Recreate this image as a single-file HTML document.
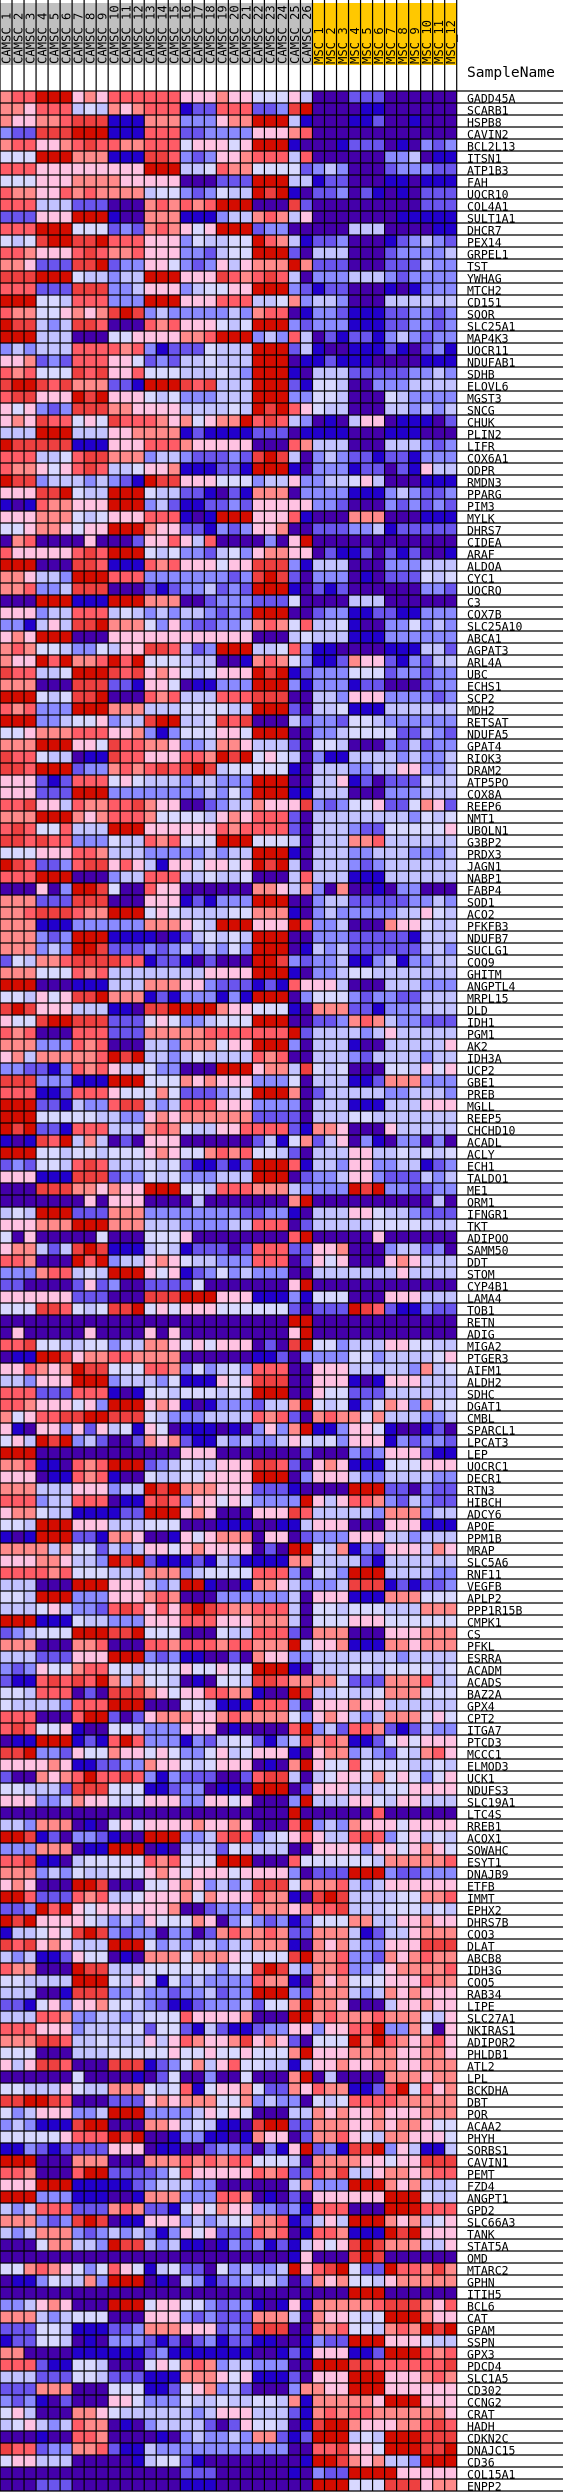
<!DOCTYPE html>
<html><head><meta charset="utf-8"><title>Heatmap</title>
<style>
html,body{margin:0;padding:0;background:#fff;}
svg{display:block;}
</style></head>
<body>
<svg id="chart" width="563" height="2492" viewBox="0 0 563 2492" xmlns="http://www.w3.org/2000/svg">
<g id="header"></g>
<g id="cells"></g>
<g id="lines"></g>
<g id="rowlabels"></g>
<text x="467" y="77" font-family="'DejaVu Sans Mono','Liberation Mono',monospace" font-size="14.6" fill="#000">SampleName</text>
</svg>
<script>
const camscCount = 26;
const mscCount = 12;
const genes = ["GADD45A","SCARB1","HSPB8","CAVIN2","BCL2L13","ITSN1","ATP1B3","FAH","UQCR10","COL4A1",
"SULT1A1","DHCR7","PEX14","GRPEL1","TST","YWHAG","MTCH2","CD151","SQOR","SLC25A1",
"MAP4K3","UQCR11","NDUFAB1","SDHB","ELOVL6","MGST3","SNCG","CHUK","PLIN2","LIFR",
"COX6A1","QDPR","RMDN3","PPARG","PIM3","MYLK","DHRS7","CIDEA","ARAF","ALDOA",
"CYC1","UQCRQ","C3","COX7B","SLC25A10","ABCA1","AGPAT3","ARL4A","UBC","ECHS1",
"SCP2","MDH2","RETSAT","NDUFA5","GPAT4","RIOK3","DRAM2","ATP5PO","COX8A","REEP6",
"NMT1","UBQLN1","G3BP2","PRDX3","JAGN1","NABP1","FABP4","SOD1","ACO2","PFKFB3",
"NDUFB7","SUCLG1","COQ9","GHITM","ANGPTL4","MRPL15","DLD","IDH1","PGM1","AK2",
"IDH3A","UCP2","GBE1","PREB","MGLL","REEP5","CHCHD10","ACADL","ACLY","ECH1",
"TALDO1","ME1","ORM1","IFNGR1","TKT","ADIPOQ","SAMM50","DDT","STOM","CYP4B1",
"LAMA4","TOB1","RETN","ADIG","MIGA2","PTGER3","AIFM1","ALDH2","SDHC","DGAT1",
"CMBL","SPARCL1","LPCAT3","LEP","UQCRC1","DECR1","RTN3","HIBCH","ADCY6","APOE",
"PPM1B","MRAP","SLC5A6","RNF11","VEGFB","APLP2","PPP1R15B","CMPK1","CS","PFKL",
"ESRRA","ACADM","ACADS","BAZ2A","GPX4","CPT2","ITGA7","PTCD3","MCCC1","ELMOD3",
"UCK1","NDUFS3","SLC19A1","LTC4S","RREB1","ACOX1","SOWAHC","ESYT1","DNAJB9","ETFB",
"IMMT","EPHX2","DHRS7B","COQ3","DLAT","ABCB8","IDH3G","COQ5","RAB34","LIPE",
"SLC27A1","NKIRAS1","ADIPOR2","PHLDB1","ATL2","LPL","BCKDHA","DBT","POR","ACAA2",
"PHYH","SORBS1","CAVIN1","PEMT","FZD4","ANGPT1","GPD2","SLC66A3","TANK","STAT5A",
"OMD","MTARC2","GPHN","ITIH5","BCL6","CAT","GPAM","SSPN","GPX3","PDCD4",
"SLC1A5","CD302","CCNG2","CRAT","HADH","CDKN2C","DNAJC15","CD36","COL15A1","ENPP2"];
// expression level per cell: 0 = strongest red ... 9/a = strongest blue
const camscLevels = ["32200043422222244434455546","33422265634322298822288710","34433211199933377743300069","78811100099922288777744432","3224432122332225444540009a","55500033399911278744322262","22244444444400066523355558","555444333344444aaa88800066","2334423233336557875660109a","222666888aaa323232000aaa18",
"8884440009aa33399976632364","222000555878323454000877aa","56510011022244475665502369","2234442123324447786550008a","33488811087744578746433303","1110005667660004441232126a","22288811177644476554400078","00055622277700044422266537","233554343101767777767322a9","011676112aaa23244456500078",
"000666aaa55444433200076726","76766622223279888566600086","443878222445878665666000a9","2325551214425556665670009a","10012133388900012166600089","21144401044456577766600077","45478711133444466665601024","43412254512223435433021267","666000666443333989999888a9","011111999444222344444aaa23",
"2226652113337667888781016a","2334542126654439998890009a","01176667678901144455576647","444110566000566889a89333a7","9a923344400076899887844444","4443335654442229a900044429","554334544000344889787443aa","a32aaaa4aaa8442462aaaa7a40","24444421200056577865743344","000aaa11299923244454411179",
"3346670002227777777871018a","332776111aaa8987768780009a","aaa000999000333aa87778885a","444766222656767667878000aa","77964611033357478877632352","434000aaa444444444444aaa65","32355677564411268700066527","344020332020555666aa932357","12266500012143456544401098","333aaa111889445a9977700079",
"000565110aaa232666222111aa","2327770003336665555660008a","000776554766100665121aaa68","554333222443797555445000aa","3330004451223347763346668a","122566a991224442230105456a","1120008773232121016555559a","444898222545666766777000aa","44488800077777777675700099","221446233221344aa876634441",
"3330003432223555564342228a","2125526660004444442322228a","1121227775662325550005556a","5554442236667777767660009a","0128872114246944544540106a","222000aaa766222665665aaa62","aaa4a70015aa244aaaaaa33463","333888111aaa444989777000aa","3321112330005456666553339a","33399977777733345600044402",
"3337870009999a9865656000aa","333767001888787676757000a9","8563321111229889a8aaa00178","3335552326666666644440009a","000aaa99966633344788898924","556454110333989777979000a7","10144466699a1100003445559a","455100111888545776555000aa","232aaa22288833333222222208","333777232aaa6673335440007a",
"436333332010667656666232aa","778897232466577aaa00043361","1117779990005553434447775a","2229982224555358887650003a","0008896772116762224447777a","0005555566774343333338888a","01088922266632356644222289","9a9120636a8a444aaaaaa86953","0005565565554345532325568a","87855621266656589989800029",
"444999111877565777666000a8","aaa11133434400055622233367","aaaaaaa4a444aaaa6aaaaaaa30","6560008883337777777788779a","444333000333666777766222a8","5a4aaaaa5aaa5554aaaaaaaa20","4336861019996569888a822288","223aaa020766434566777222a8","777322656000454987576777aa","88aaaa8487aa88885aaaaaaa40",
"444444888aaa11100044499979","5551125651105454445555558a","aaaaaaaaaaaaaaaaaaaaaaaa00","a4aaaaa4aaaa4a4aaaaaaaaa40","221556655766334545444a8a10","a99001433223333aaaaaa998a7","442343011555223757657222aa","667444000766675999454111aa","2228882229a9556555656000aa","2234445470004349a977786630",
"3542211001115677766662328a","49a44748465945a999a9a74730","546010768aa834389967677645","000aaaaaaaaaaaa444aaaaaaa8","33299a2320008765664441128a","444a992329aa566554444000a7","3336664447660103334448889a","222766222a9921274454577770","433566999988000434aaa44412","556000444666555aaa999aa996",
"9a9000889334aa9454333a44a8","333363558676445434444a8a00","44433466701089998967999933","2222325556663337655552227a","666aaa000444676009aa933467","556000777444323aaa7777776a","6665467782124241012332226a","0009995667774442224443336a","876555000110555aaa5662228a","333aaa332aaa22322232233306",
"66688844400078799aa8a34477","7874553225565554554550009a","899212120363556a9a55611233","556222a8a1113454422339aa01","566667222000aaa5569992227a","222aaa2008a843334432333357","2125549aa556777444a9aaaa20","a9900098920277797865589761","1107784553445457754654449a","444434998877344565444a9a30",
"8aa343202212797888aa82116a","55666811155599877a99a000a8","444776344565444774454aaa70","aaaaaaaaaaaaaaaaaaaaaaaa0a","667333a9a545444434434aaa20","00198a7789aa00077621276542","777333a99000a9a666856666aa","22199a655555232555000aaa25","3337675665554345444544447a","434aaa001aaa55434767611153",
"0028882326654443534442339a","887020454444443aa877733343","010444456767455534a7578798","9665451017877a77a832332388","1214346660005767667663339a","676998455a9a33353334555510","233aaa01166655555575510167","5566660005645957677772339a","666aa911177677877687700078","88954744355678998777685530",
"666223776676555244443aaa00","22244476665585589689987744","3331126656664642344314348a","555aaa66655555455455455530","464112aaa11198753642556696","aaaaaa5aaaa9a85aa7aa5aaa30","55666456633356529544358834","110012aaa8884343335537677a","576444776000777764545aaa66","767999100aaa33465699a10088",
"555554222010aa97799a9344a8","997898888444a99aa8778a7940","000aaa333aaa3332323225556a","223aaa20088887524444423288","444000999998766677aaaaaa63","000777999aa9333777223a9a8a","67622288832388954534477879","333787101a9944476765533298","676333787676797454888232a9","aaa53366701167699a97879896",
"aaaaaaaaaaaaaaaaaaaaaaaa94","55323457524596588a57677604","a99756637000a9a679877667a8","aaaaaaaaaaaaaaaaaaaaaaaaaa","776434aaa0005445578779a949","333676555aaa4447878883336a","888556999887333444878111aa","988556a9a777898a8798899aa9","33aaaa999999879999999aa989","222899556aaa545323766777aa",
"6668885568889993334549998a","888333aaa555998543768aaa73","7879a8aaa44577756656655639","546aaa33456666667644466689","654676233a9a766668a84556a9","aaa9aa223aaaa9a76776733898","122877332899677777777777aa","544666aaaaa965589aaaaaaaa9","aaaaaaaaaaaaaaa888aaaaaa9a","aaa888aaaaaaaaa999aaaaaaaa"];
const mscLevels = ["aaa888aaaaaa","aaaa99aaaaaa","aaa998aa9aaa","aaaaaaaaaaaa","aa9888a9a787","aaaaaa776a99","767aaa877788","988aaa99a999","887a89a9a888","aaaaaaaaa888",
"aaaaaaa99999","aaa666aaaa99","887aaa987678","666aaa877776","888aaa888677","777666787777","988aaa9a9777","667aaa666666","778999887787","777999887787",
"a89889767877","9aa99989a879","98999aaaa999","666888887767","556aa7776666","556aaa567777","566aaa667676","a9a644a999a8","999aaa999aaa","666aaa666787",
"767889889777","777988a89466","766546aaa999","777999767887","778aaa787878","aaa333aaa999","888776988888","aaaaaaaaaaaa","a8998a898aa9","666aaa777666",
"777a9a888565","898aaaaaa778","aaa666aaaaaa","877998899777","6659aa775767","666999777777","99aaaa999668","998344897866","777555877877","777988aaa877",
"667444777787","665999666666","778556777777","776555588678","556aaa786877","799666676776","666776644776","66498a888566","666aaa777666","787554885348",
"666666667565","666788555554","666332666666","666776667776","666787666666","666999666666","7a3aa9a77aaa","766888887767","767777766456","776aaa344566",
"777888889666","676888888667","776997697766","776556666666","446aaa666777","555787788666","333889777666","887323677888","666676466666","6669aa666664",
"666786666766","565aaa556454","666998333777","866666776667","666999666444","666556666666","334aaa466666","864a79a77a7a","666446656565","667447766987",
"776447888676","777010778877","aaaaaaaaaa6a","666445667888","666665555666","aaaaa4aaaaaa","443aaa76687a","454aaa434666","666666646666","aaaaaaaaaaaa",
"555aaa444666","888012899788","aaaaaaaaaaaa","aaaaaaaaaaaa","557666445566","777557666654","444666667365","4449a9444666","455888666666","565975347355",
"323353666776","9974459aa98a","657444978778","aaa787444899","434999555444","444677666677","aaa00088a788","464223786788","666667333766","444aaa444999",
"777444667666","563978444634","666689666666","567000666677","776111989887","444999333555","556555666333","555444555555","333aaa444333","443999334333",
"666666676666","666556555565","335888333266","665665333555","444344666666","434676333545","768223898677","323998545444","433767856324","455255556656",
"654453545754","444666554444","666445644666","aaaaa2aaaaaa","767344454444","466212754656","444474454345","555556333332","888000788777","332676444444",
"101666655332","221666555656","555336644344","333698664333","343677444111","332778343233","332776433332","343555444233","333676343444","334aaa644344",
"323332333564","7442207735a4","555030234324","444333344334","443443344333","a6aaaa333433","233998205243","565222233333","343443444333","333443433455",
"332456334445","879110746996","333344544111","231664334322","777000343666","444444000566","222aaa000222","646000343654","223999010444","454101333664",
"aaa101aaaaaa","210588022313","343556433333","aaa000aaaaaa","333332111342","344565000344","332556323010","788000444566","444998000232","000112222221",
"444000444323","344000444444","333334000444","323223333334","100344433212","000656000111","221445000110","001343667000","788000044444","000555111433"];
const palette = {"0":"#D40C00","1":"#EE4040","2":"#FF5C66","3":"#FF8A8A","4":"#FFC2E2","5":"#D8D8FF","6":"#C2C2FF","7":"#8A8AFF","8":"#6A55EE","9":"#2200CC","a":"#4400AA"};

const NS = "http://www.w3.org/2000/svg";
const nCols = camscCount + mscCount;
const gridW = 456.7;
const colW = gridW / nCols;
const top0 = 91;
const rowH = 12;
const xOf = i => i * colW;
const yOf = r => top0 + r * rowH;

function mk(tag, attrs, parent) {
  const e = document.createElementNS(NS, tag);
  for (const k in attrs) e.setAttribute(k, attrs[k]);
  parent.appendChild(e);
  return e;
}

const header = document.getElementById('header');
const sampleNames = [];
for (let i = 1; i <= camscCount; i++) sampleNames.push('CAMSC_' + i);
for (let i = 1; i <= mscCount; i++) sampleNames.push('MSC_' + i);

sampleNames.forEach((s, i) => {
  const r = mk('rect', {x: xOf(i), y: 3, width: colW, height: 62, fill: i < camscCount ? '#C0C0C0' : '#FFC800'}, header);
  
  
  const cx = xOf(i) + colW / 2 + 4.3;
  const t = mk('text', {x: 0, y: 0, transform: 'translate(' + cx + ',64) rotate(-90)',
    'font-family': "'DejaVu Sans Mono','Liberation Mono',monospace", 'font-size': '12.2', fill: '#000'}, header);
  t.textContent = s;
  
  
});

const cells = document.getElementById('cells');
genes.forEach((g, r) => {
  const lv = camscLevels[r] + mscLevels[r];
  for (let c = 0; c < nCols; c++) {
    const ch = lv[c] || '5';
    const rc = mk('rect', {x: xOf(c), y: yOf(r), width: colW, height: rowH, fill: palette[ch]}, cells);
    
    
  }
});

const lines = document.getElementById('lines');
for (let c = 0; c <= nCols; c++) {
  const l = mk('line', {x1: xOf(c), x2: xOf(c), y1: 0, y2: yOf(genes.length), stroke: '#000', 'stroke-width': 1.2}, lines);
  
  
}
for (let r = 0; r <= genes.length; r++) {
  const l = mk('line', {x1: 0, x2: 563, y1: yOf(r), y2: yOf(r), stroke: '#000', 'stroke-width': 1.2}, lines);
  
  
}

const labels = document.getElementById('rowlabels');
genes.forEach((g, r) => {
  const t = mk('text', {x: 467, y: yOf(r) + 11.5, 'font-family': "'DejaVu Sans Mono','Liberation Mono',monospace",
    'font-size': '11.5', fill: '#000'}, labels);
  t.textContent = g;
  
  
});
</script>
</body></html>
